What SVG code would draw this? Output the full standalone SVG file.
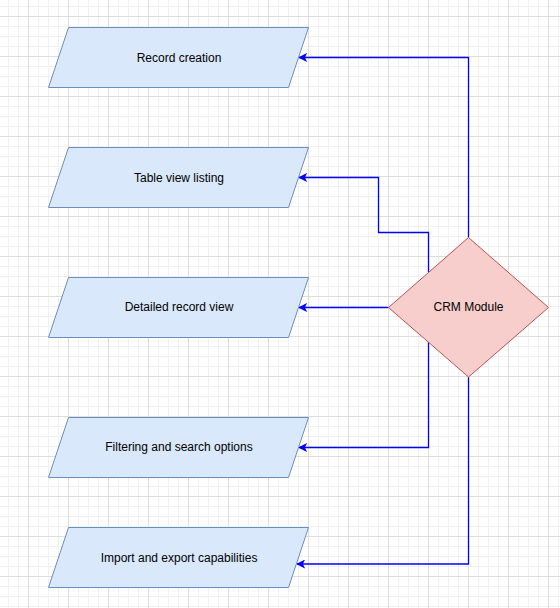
<svg xmlns="http://www.w3.org/2000/svg" width="560" height="608" viewBox="0 0 560 608">
  <defs>
    <pattern id="grid" width="40" height="40" patternUnits="userSpaceOnUse">
      <path d="M8.5 0V40M18.5 0V40M38.5 0V40M0 6.5H40M0 26.5H40M0 36.5H40" stroke="#f1f1f1" stroke-width="1" fill="none"/>
      <path d="M28.5 0V40M0 16.5H40" stroke="#dedede" stroke-width="1" fill="none"/>
    </pattern>
    <marker id="arrow" viewBox="0 0 10 10" refX="9" refY="5" markerWidth="9" markerHeight="9" markerUnits="userSpaceOnUse" orient="auto">
      <path d="M10 5L0 0L2.5 5L0 10Z" fill="#0000ff"/>
    </marker>
  </defs>
  <style>
    .io { fill: #dae8fc; stroke: #6c8ebf; stroke-width: 1; }
    .dec { fill: #f8cecc; stroke: #b85450; stroke-width: 1; }
    .lbl { font-family: "Liberation Sans", Arial, sans-serif; font-size: 12px; fill: #000000; text-anchor: middle; dominant-baseline: central; }
    .edge { fill: none; stroke: #0000ff; stroke-width: 1.3; marker-end: url(#arrow); }
  </style>
  <rect width="560" height="608" fill="#ffffff"/>
  <rect width="560" height="608" fill="url(#grid)"/>

  <g id="connectors">
    <path class="edge" d="M468.5 237.5V57.5H299"/>
    <path class="edge" d="M428.5 272V232.5H378.5V177.5H299"/>
    <path class="edge" d="M388.5 307.5H299"/>
    <path class="edge" d="M428.5 342V447.5H299"/>
    <path class="edge" d="M468.5 377V564H297"/>
  </g>

  <g id="record-creation">
    <polygon class="io" points="68.5,27.5 308.5,27.5 288.5,87.5 48.5,87.5"/>
    <text class="lbl" x="179" y="57.5">Record creation</text>
  </g>
  <g id="table-view-listing">
    <polygon class="io" points="68.5,147.5 308.5,147.5 288.5,207.5 48.5,207.5"/>
    <text class="lbl" x="179" y="177.5">Table view listing</text>
  </g>
  <g id="detailed-record-view">
    <polygon class="io" points="68.5,277.5 308.5,277.5 288.5,337.5 48.5,337.5"/>
    <text class="lbl" x="179" y="307">Detailed record view</text>
  </g>
  <g id="filtering-search">
    <polygon class="io" points="68.5,417.5 308.5,417.5 288.5,477.5 48.5,477.5"/>
    <text class="lbl" x="179" y="447">Filtering and search options</text>
  </g>
  <g id="import-export">
    <polygon class="io" points="68.5,527.5 308.5,527.5 288.5,587.5 48.5,587.5"/>
    <text class="lbl" x="179" y="557.5">Import and export capabilities</text>
  </g>
  <g id="crm-module">
    <polygon class="dec" points="468.5,237.5 548.5,307.5 468.5,377 388.5,307.5"/>
    <text class="lbl" x="468.5" y="307">CRM Module</text>
  </g>
</svg>
